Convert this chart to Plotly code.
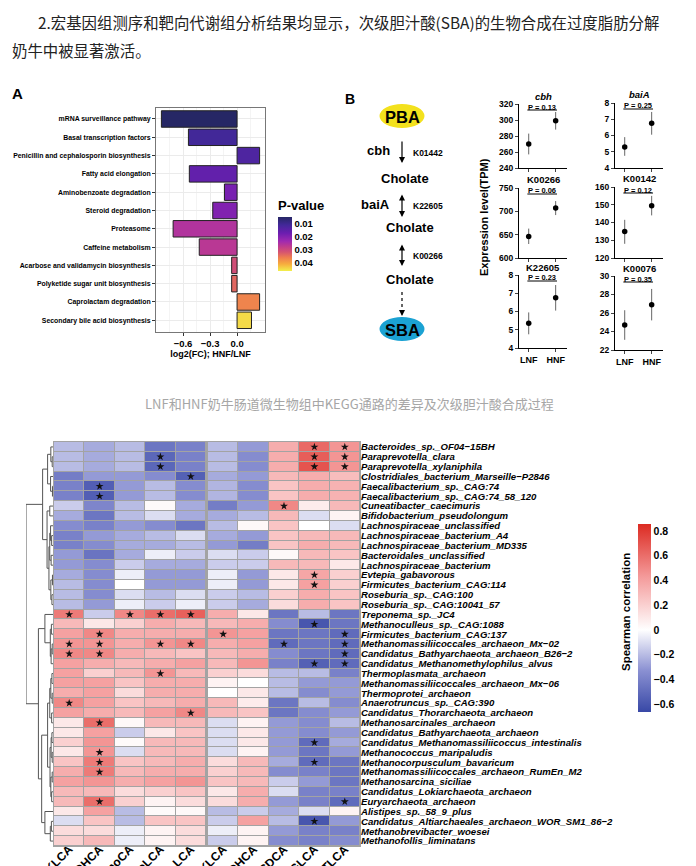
import plotly.graph_objects as go

W, H = 696, 866
# the page puts the figure 8px in from the top-left corner
PAGE_PAD = 8
FONT = "Liberation Sans, Arial, sans-serif"
CJK = "Noto Sans CJK SC"

# ---------------- page text ----------------
intro_line1 = "2.宏基因组测序和靶向代谢组分析结果均显示，次级胆汁酸(SBA)的生物合成在过度脂肪分解"
intro_line2 = "奶牛中被显著激活。"
caption_top = "LNF和HNF奶牛肠道微生物组中KEGG通路的差异及次级胆汁酸合成过程"

# ---------------- panel A: KEGG pathways ----------------
kegg_pathways = [
    "mRNA surveillance pathway",
    "Basal transcription factors",
    "Penicillin and cephalosporin biosynthesis",
    "Fatty acid elongation",
    "Aminobenzoate degradation",
    "Steroid degradation",
    "Proteasome",
    "Caffeine metabolism",
    "Acarbose and validamycin biosynthesis",
    "Polyketide sugar unit biosynthesis",
    "Caprolactam degradation",
    "Secondary bile acid biosynthesis",
]
kegg_log2fc = [-0.84, -0.54, 0.25, -0.53, -0.14, -0.27, -0.71, -0.42, -0.06, -0.06, 0.25, 0.16]
kegg_pvalue = [0.005, 0.011, 0.013, 0.016, 0.019, 0.020, 0.026, 0.027, 0.031, 0.034, 0.037, 0.045]
fc_ticks = [-0.6, -0.3, 0.0]
p_ticks = [0.01, 0.02, 0.03, 0.04]

# ---------------- panel B: pathway + expression ----------------
path_nodes = ["PBA", "Cholate", "Cholate", "Cholate", "SBA"]
path_genes = ["cbh", "baiA", "", ""]
path_kos = ["K01442", "K22605", "K00266", ""]

groups = ["LNF", "HNF"]
gene_titles = ["<i>cbh</i>", "<i>baiA</i>", "K00266", "K00142", "K22605", "K00076"]
gene_mean = [[270, 299], [5.3, 6.75], [646, 707], [135, 149.5], [5.35, 6.75], [24.7, 26.9]]
gene_upper = [[283, 310], [5.9, 7.45], [663, 722], [141.5, 155], [5.95, 7.45], [26.3, 28.6]]
gene_lower = [[257, 288], [4.75, 6.05], [630, 692], [128, 144], [4.75, 6.05], [23.1, 25.2]]
gene_pval = ["0.13", "0.25", "0.06", "0.12", "0.23", "0.35"]
gene_yrange = [[240, 320], [4, 8], [600, 750], [120, 160], [4, 8], [22, 30]]
gene_dtick = [20, 1, 50, 10, 1, 2]

# ---------------- heatmap ----------------
taxa = [
    "Bacteroides_sp._OF04−15BH",
    "Paraprevotella_clara",
    "Paraprevotella_xylaniphila",
    "Clostridiales_bacterium_Marseille−P2846",
    "Faecalibacterium_sp._CAG:74",
    "Faecalibacterium_sp._CAG:74_58_120",
    "Cuneatibacter_caecimuris",
    "Bifidobacterium_pseudolongum",
    "Lachnospiraceae_unclassified",
    "Lachnospiraceae_bacterium_A4",
    "Lachnospiraceae_bacterium_MD335",
    "Bacteroidales_unclassified",
    "Lachnospiraceae_bacterium",
    "Evtepia_gabavorous",
    "Firmicutes_bacterium_CAG:114",
    "Roseburia_sp._CAG:100",
    "Roseburia_sp._CAG:10041_57",
    "Treponema_sp._JC4",
    "Methanoculleus_sp._CAG:1088",
    "Firmicutes_bacterium_CAG:137",
    "Methanomassiliicoccales_archaeon_Mx−02",
    "Candidatus_Bathyarchaeota_archaeon_B26−2",
    "Candidatus_Methanomethylophilus_alvus",
    "Thermoplasmata_archaeon",
    "Methanomassiliicoccales_archaeon_Mx−06",
    "Thermoprotei_archaeon",
    "Anaerotruncus_sp._CAG:390",
    "Candidatus_Thorarchaeota_archaeon",
    "Methanosarcinales_archaeon",
    "Candidatus_Bathyarchaeota_archaeon",
    "Candidatus_Methanomassiliicoccus_intestinalis",
    "Methanococcus_maripaludis",
    "Methanocorpusculum_bavaricum",
    "Methanomassiliicoccales_archaeon_RumEn_M2",
    "Methanosarcina_siciliae",
    "Candidatus_Lokiarchaeota_archaeon",
    "Euryarchaeota_archaeon",
    "Alistipes_sp._58_9_plus",
    "Candidatus_Altiarchaeales_archaeon_WOR_SM1_86−2",
    "Methanobrevibacter_woesei",
    "Methanofollis_liminatans",
]
bile_acids_left = ["7-KLCA", "DHCA", "apoCA", "isoLCA", "LCA"]
bile_acids_right = ["12-KLCA", "DHCA", "CDCA", "GLCA", "TLCA"]

rho = [
    [-0.20, -0.25, -0.20, -0.45, -0.40, -0.20, -0.30, 0.35, 0.62, 0.45],
    [-0.20, -0.25, -0.20, -0.52, -0.40, -0.20, -0.35, 0.35, 0.66, 0.45],
    [-0.20, -0.25, -0.20, -0.52, -0.40, -0.20, -0.35, 0.35, 0.70, 0.45],
    [-0.42, -0.30, -0.30, -0.35, -0.55, -0.25, -0.30, 0.30, 0.35, 0.28],
    [-0.40, -0.56, -0.30, -0.20, -0.35, -0.22, -0.35, 0.25, 0.35, 0.33],
    [-0.40, -0.56, -0.30, -0.20, -0.35, -0.22, -0.35, 0.25, 0.35, 0.33],
    [-0.15, -0.38, -0.20, 0.02, -0.25, -0.42, -0.30, 0.50, 0.08, 0.30],
    [-0.25, -0.45, -0.20, -0.10, -0.25, -0.25, -0.20, 0.30, -0.10, 0.05],
    [-0.35, -0.40, -0.30, -0.35, -0.45, -0.20, 0.03, 0.25, 0.00, -0.10],
    [-0.40, -0.30, -0.25, -0.20, -0.10, -0.25, -0.30, 0.25, 0.30, 0.30],
    [-0.40, -0.35, -0.25, -0.25, -0.20, -0.30, -0.42, 0.25, 0.35, 0.30],
    [-0.30, -0.46, -0.25, -0.05, -0.15, -0.10, -0.15, 0.03, 0.30, 0.25],
    [-0.30, -0.35, -0.15, -0.25, -0.25, -0.15, -0.15, 0.30, 0.30, 0.10],
    [-0.25, -0.35, -0.05, -0.30, -0.30, -0.05, -0.30, 0.10, 0.38, 0.20],
    [-0.20, -0.35, 0.00, -0.30, -0.30, -0.05, -0.30, 0.10, 0.40, 0.20],
    [-0.20, -0.35, -0.10, -0.20, -0.10, -0.15, -0.20, 0.20, 0.35, 0.25],
    [-0.20, -0.30, -0.05, -0.15, -0.05, -0.15, -0.25, 0.15, 0.35, 0.25],
    [0.55, -0.15, 0.50, 0.60, 0.65, 0.35, 0.10, -0.45, -0.20, -0.45],
    [0.30, 0.10, 0.20, 0.35, 0.30, 0.30, 0.35, -0.35, -0.60, -0.45],
    [0.40, 0.50, 0.35, 0.35, 0.35, 0.45, 0.40, -0.45, -0.45, -0.50],
    [0.45, 0.45, 0.35, 0.45, 0.50, 0.35, 0.40, -0.50, -0.45, -0.50],
    [0.50, 0.50, 0.35, 0.30, 0.25, 0.30, 0.35, -0.35, -0.45, -0.50],
    [0.40, 0.35, 0.30, 0.35, 0.40, 0.30, 0.45, -0.40, -0.55, -0.50],
    [0.40, 0.20, 0.30, 0.45, 0.30, 0.20, 0.15, -0.20, -0.20, -0.40],
    [0.40, 0.40, 0.25, 0.35, 0.35, 0.05, 0.00, -0.20, -0.30, -0.30],
    [0.35, 0.40, 0.15, 0.35, 0.35, 0.00, 0.10, -0.20, -0.35, -0.30],
    [0.50, 0.40, 0.25, 0.30, 0.35, 0.30, 0.08, -0.45, -0.20, -0.35],
    [0.40, 0.35, 0.30, 0.40, 0.50, 0.30, 0.25, -0.45, -0.35, -0.30],
    [0.10, 0.60, 0.03, 0.30, 0.30, -0.10, 0.05, -0.30, -0.35, -0.20],
    [0.10, 0.40, -0.15, 0.10, 0.25, -0.10, 0.10, -0.30, -0.35, -0.30],
    [0.20, 0.45, 0.02, 0.30, 0.30, -0.10, 0.10, -0.30, -0.50, -0.25],
    [0.10, 0.45, -0.10, 0.30, 0.30, -0.10, 0.05, -0.30, -0.45, -0.30],
    [0.25, 0.55, 0.25, 0.30, 0.35, 0.15, 0.30, -0.25, -0.50, -0.45],
    [0.35, 0.55, 0.30, 0.35, 0.35, 0.20, 0.30, -0.35, -0.40, -0.45],
    [0.40, 0.45, 0.35, 0.40, 0.45, 0.25, 0.30, -0.15, -0.30, -0.45],
    [0.30, 0.30, 0.15, 0.20, 0.25, 0.10, 0.35, -0.10, -0.40, -0.40],
    [0.30, 0.60, 0.20, 0.05, 0.15, 0.15, 0.35, -0.30, -0.40, -0.50],
    [0.10, 0.40, -0.20, 0.02, 0.03, -0.20, -0.15, -0.25, -0.10, 0.05],
    [-0.10, 0.25, -0.20, 0.25, 0.25, -0.15, 0.40, -0.20, -0.60, -0.30],
    [0.15, 0.15, -0.05, 0.05, 0.15, -0.05, 0.05, -0.30, -0.40, -0.40],
    [0.20, 0.30, -0.05, 0.05, 0.15, -0.15, 0.05, -0.35, -0.40, -0.35],
]
# "1" = significant (star)
signif = [
    "0000000011", "0001000011", "0001000011", "0000100000", "0100000000",
    "0100000000", "0000000100", "0000000000", "0000000000", "0000000000",
    "0000000000", "0000000000", "0000000000", "0000000010", "0000000010",
    "0000000000", "0000000000", "1011100000", "0000000010", "0100010001",
    "1101100101", "1100000001", "0000000011", "0001000000", "0000000000",
    "0000000000", "1000000000", "0000100000", "0100000000", "0000000000",
    "0000000010", "0100000000", "0100000010", "0100000000", "0000000000",
    "0000000000", "0100000001", "0000000000", "0000000010", "0000000000",
    "0000000000",
]
rho_ticks = [-0.6, -0.4, -0.2, 0, 0.2, 0.4, 0.6, 0.8]

# row clustering: (left, right, height), leaves are row indices
dendro_tree = (
    (
        (((1, 2, 0.03), 0, 0.08), (3, (4, 5, 0.02), 0.09), 0.2),
        ((6, 7, 0.12),
         (((8, (9, 10, 0.05), 0.09), (11, 12, 0.07), 0.12),
          ((13, 14, 0.02), (15, 16, 0.04), 0.08), 0.15), 0.22),
        0.385,
    ),
    (
        (17, ((18, 19, 0.06), ((20, 21, 0.03), 22, 0.07), 0.1), 0.3),
        (
            ((((23, 24, 0.04), (25, 26, 0.03), 0.08), (27, 28, 0.05), 0.12),
             (((29, 30, 0.04), (31, 32, 0.03), 0.07), ((33, 34, 0.03), (35, 36, 0.05), 0.08), 0.11), 0.2),
            (37, ((38, 39, 0.06), 40, 0.1), 0.3),
            0.42,
        ),
        0.54,
    ),
    1.0,
)


def fx(x):
    return (x - PAGE_PAD) / W


def fy(y):
    return 1 - (y - PAGE_PAD) / H


def dendro_lines(node, xs, ys):
    if isinstance(node, int):
        return float(node), 0.0
    left, right, h = node
    yl, hl = dendro_lines(left, xs, ys)
    yr, hr = dendro_lines(right, xs, ys)
    xs += [hl, h, h, hr, None]
    ys += [yl, yl, yr, yr, None]
    return (yl + yr) / 2, h


fig = go.Figure()
annotations = []
shapes = []


def note(text, x, y, size, weight="bold", color="black", family=FONT, **kw):
    d = dict(text=text, x=fx(x), y=fy(y), xref="paper", yref="paper", showarrow=False,
             xanchor="center", yanchor="middle",
             font=dict(size=size, family=family, color=color, weight=weight))
    d.update(kw)
    annotations.append(d)


# ---------------- page text ----------------
note(intro_line1, 36, 22, 15.4, weight="normal", color="#222", family=CJK, xanchor="left")
note(intro_line2, 10, 50, 15.4, weight="normal", color="#222", family=CJK, xanchor="left")
note(caption_top, 349, 403, 13, weight="normal", color="#a6a6a6", family=CJK)

# ---------------- panel A ----------------
p_scale = ["#262765", "#43289a", "#6c1db0", "#a02ab0", "#c03c8c", "#d65570", "#ee7d4f", "#f7ad3e", "#f2ef4c"]
p_pos = [0.0, 0.15, 0.3, 0.45, 0.55, 0.65, 0.75, 0.87, 1.0]
# colour by -p so that small p sits on top of the colour bar
p_colorscale = sorted([[1 - t, c] for t, c in zip(p_pos, p_scale)])
fig.add_trace(go.Bar(
    x=kegg_log2fc, y=kegg_pathways, orientation="h", width=0.9,
    xaxis="x", yaxis="y",
    marker=dict(
        color=[-p for p in kegg_pvalue], colorscale=p_colorscale, cmin=-0.0467, cmax=-0.005,
        line=dict(color="#222", width=1),
        colorbar=dict(
            x=fx(278), xanchor="left", y=fy(234), yanchor="middle",
            thickness=14, len=74, lenmode="pixels", xpad=0, ypad=0, outlinewidth=0,
            tickvals=[-p for p in p_ticks], ticktext=[f"{p:.2f}" for p in p_ticks],
            ticks="", tickfont=dict(size=9.5, family=FONT, weight="bold"),
            title=dict(text="P-value", side="top", font=dict(size=13, family=FONT, weight="bold")),
        ),
    ),
))
note("A", 17, 93, 15)

# ---------------- panel B: pathway diagram ----------------
note("B", 350, 99, 14)
node_py = [116, 178, 228, 279, 329]
node_px = [402, 405, 410, 410, 402]
oval_fill = {"PBA": "#f3e11d", "SBA": "#1ba2d3"}
for name, x, y in zip(path_nodes, node_px, node_py):
    if name in oval_fill:
        shapes.append(dict(type="circle", xref="paper", yref="paper", x0=fx(x - 22.5), x1=fx(x + 22.5),
                           y0=fy(y + 12), y1=fy(y - 12), fillcolor=oval_fill[name], line=dict(width=0)))
        note(name, x, y + 1, 16.5)
    else:
        note(name, x, y, 13)

arrow_spans = [(140, 163), (193, 217), (243, 266), (292, 316)]
arrow_kind = ["single", "double", "double", "dashed"]
for (y0, y1), kind, gene, ko in zip(arrow_spans, arrow_kind, path_genes, path_kos):
    ax_x = 402
    if kind == "dashed":
        shapes.append(dict(type="line", xref="paper", yref="paper", x0=fx(ax_x), x1=fx(ax_x),
                           y0=fy(y0), y1=fy(y1 - 5), line=dict(color="black", width=1.2, dash="dot")))
        annotations.append(dict(x=fx(ax_x), y=fy(y1), xref="paper", yref="paper", text="", showarrow=True,
                                ax=0, ay=-6, arrowhead=2, arrowsize=1, arrowwidth=1.2, arrowcolor="black"))
    else:
        annotations.append(dict(x=fx(ax_x), y=fy(y1), xref="paper", yref="paper", text="", showarrow=True,
                                ax=0, ay=-(y1 - y0), arrowhead=2, startarrowhead=2, arrowsize=1, arrowwidth=1.2,
                                arrowcolor="black", arrowside="end+start" if kind == "double" else "end"))
    ym = (y0 + y1) / 2
    if gene:
        note(gene, 392, ym - 1, 13, xanchor="right")
    if ko:
        note(ko, 411, ym + 1, 8.5, xanchor="left")

# ---------------- panel B: expression dot plots ----------------
col_px = [(519, 567), (615, 663)]
row_px = [[(104, 168), (188, 258), (275, 348)], [(103, 168), (187, 258), (276, 350)]]
for i in range(6):
    n = i + 2
    r, c = divmod(i, 2)
    xl, xr = col_px[c]
    yt, yb = row_px[c][r]
    m = gene_mean[i]
    fig.add_trace(go.Scatter(
        x=[0, 1], y=m, mode="markers", xaxis=f"x{n}", yaxis=f"y{n}",
        marker=dict(color="black", size=5.5),
        error_y=dict(type="data", symmetric=False,
                     array=[u - v for u, v in zip(gene_upper[i], m)],
                     arrayminus=[v - lo for v, lo in zip(m, gene_lower[i])],
                     width=0, thickness=1, color="#666"),
    ))
    fig.update_layout({
        f"xaxis{n}": dict(domain=[fx(xl), fx(xr)], anchor=f"y{n}", range=[-0.36, 1.42],
                          tickvals=[0, 1], ticktext=groups if r == 2 else ["", ""],
                          ticks="outside", ticklen=3, showline=True, linecolor="black", linewidth=1,
                          showgrid=False, zeroline=False, automargin=False,
                          tickfont=dict(size=9, family=FONT, weight="bold")),
        f"yaxis{n}": dict(domain=[fy(yb), fy(yt)], anchor=f"x{n}", range=gene_yrange[i],
                          tick0=gene_yrange[i][0], dtick=gene_dtick[i],
                          ticks="outside", ticklen=3, showline=True, linecolor="black", linewidth=1,
                          showgrid=False, zeroline=False, automargin=False,
                          tickfont=dict(size=8.5, family=FONT, weight="bold")),
    })
    xm = (xl + xr) / 2
    note(gene_titles[i], xm, yt - 8, 9.5)
    note("P = " + gene_pval[i], xl + 23, yt + 3, 7.5)
    shapes.append(dict(type="line", xref=f"x{n}", yref="paper", x0=-0.05, x1=1.05,
                       y0=fy(yt + 6), y1=fy(yt + 6), line=dict(color="black", width=1)))
note("Expression level(TPM)", 484, 217, 11, textangle=-90)

# ---------------- heatmap ----------------
hm_top, hm_bot = 442, 846
hm_blocks = [(54, 206), (208, 360)]
rho_scale = [[0, "#3848a6"], [0.22, "#8a90d2"], [0.437, "#ffffff"], [0.72, "#f49a9a"], [1, "#dc2b22"]]
rows = list(range(len(taxa)))
for b, (xl, xr) in enumerate(hm_blocks):
    n = 9 + b
    shapes.append(dict(type="rect", xref="paper", yref="paper", layer="below",
                       x0=fx(xl - 1), x1=fx(xr + 1), y0=fy(hm_bot + 1), y1=fy(hm_top - 1),
                       fillcolor="#a3a3a3", line=dict(width=0)))
    cols = slice(0, 5) if b == 0 else slice(5, 10)
    fig.add_trace(go.Heatmap(
        z=[r[cols] for r in rho], x=list(range(5)), y=rows,
        xaxis=f"x{n}", yaxis="y9", colorscale=rho_scale, zmin=-0.664, zmax=0.856,
        xgap=1, ygap=1, showscale=(b == 0),
        colorbar=dict(x=fx(638), xanchor="left", y=fy(618), yanchor="middle",
                      thickness=13, len=188, lenmode="pixels", xpad=0, ypad=0, outlinewidth=0,
                      tickvals=rho_ticks, ticks="",
                      tickfont=dict(size=10.5, family=FONT, weight="bold")),
    ))
    sx, sy = [], []
    for ri, s in enumerate(signif):
        for ci, flag in enumerate(s[cols]):
            if flag == "1":
                sx.append(ci)
                sy.append(ri)
    fig.add_trace(go.Scatter(x=sx, y=sy, mode="markers", xaxis=f"x{n}", yaxis="y9",
                             marker=dict(symbol="star", size=6, color="#111")))
    fig.update_layout({
        f"xaxis{n}": dict(domain=[fx(xl), fx(xr)], anchor="y9", range=[-0.5, 4.5],
                          tickvals=list(range(5)),
                          ticktext=bile_acids_left if b == 0 else bile_acids_right,
                          tickangle=-45, ticks="", ticklabelstandoff=-7,
                          showgrid=False, zeroline=False, showline=False,
                          automargin=False,
                          tickfont=dict(size=12, family=FONT, weight="bold")),
    })
note("Spearman correlation", 626, 612, 11.5, textangle=-90)

# dendrogram
dx, dy = [], []
dendro_lines(dendro_tree, dx, dy)
fig.add_trace(go.Scatter(x=dx, y=dy, mode="lines", xaxis="x11", yaxis="y9",
                         line=dict(color="#555", width=1)))

fig.update_layout(
    width=W, height=H,
    margin=dict(l=0, r=0, t=0, b=0, autoexpand=False),
    paper_bgcolor="white", plot_bgcolor="rgba(0,0,0,0)",
    showlegend=False,
    font=dict(family=FONT, color="black"),
    xaxis=dict(domain=[fx(156), fx(265)], anchor="y", range=[-0.9, 0.31],
               tickvals=fc_ticks, tickformat=".1f", ticks="outside", ticklen=3, tickcolor="#333",
               showgrid=True, gridcolor="#ebebeb", zeroline=False,
               minor=dict(tickvals=[-0.75, -0.45, -0.15, 0.15], showgrid=True, gridcolor="#f4f4f4"),
               showline=True, mirror=True, linecolor="#777", linewidth=1, automargin=False,
               tickfont=dict(size=9.5, family=FONT, weight="bold"),
               title=dict(text="log2(FC); HNF/LNF", standoff=2,
                          font=dict(size=9, family=FONT, weight="bold"))),
    yaxis=dict(domain=[fy(332), fy(108)], anchor="x", range=[11.64, -0.6],
               categoryorder="array", categoryarray=kegg_pathways,
               ticks="outside", ticklen=3, tickcolor="#333",
               showgrid=True, gridcolor="#ebebeb", zeroline=False,
               showline=True, mirror=True, linecolor="#777", linewidth=1, automargin=False,
               tickfont=dict(size=6.9, family=FONT, weight="bold")),
    yaxis9=dict(domain=[fy(hm_bot), fy(hm_top)], anchor="x10", side="right",
                range=[len(taxa) - 0.5, -0.5], tickvals=rows,
                ticktext=[f"<i>{t}</i>" for t in taxa], ticks="",
                showgrid=False, zeroline=False, showline=False, automargin=False,
                tickfont=dict(size=9.6, family=FONT, weight="bold")),
    xaxis11=dict(domain=[fx(26), fx(53)], anchor="y9", range=[1.0, 0.0], visible=False),
    annotations=annotations,
    shapes=shapes,
)

fig.write_html("out.html")
